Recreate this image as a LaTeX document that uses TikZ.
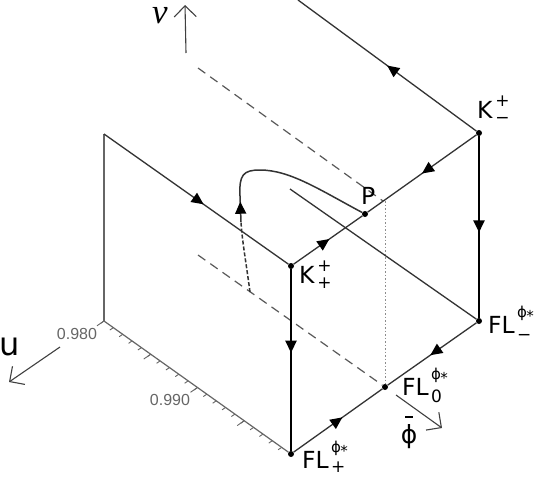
\documentclass[tikz,border=0pt]{standalone}
\usepackage{fontspec}
\setmainfont{DejaVu Sans}
\newfontfamily\libsans{Liberation Sans}
\newfontfamily\libserif{Liberation Serif}
\usetikzlibrary{arrows.meta,decorations.markings,calc}
\newcommand\scrsz{\fontsize{17}{17}\selectfont}
\newcommand\supsz{\fontsize{15}{15}\selectfont}
\newcommand\mylbl[3]{#1\kern0.12em\rlap{\raisebox{0.5em}{\scrsz #2}}\raisebox{-0.25em}{\scrsz #3}}
\newcommand\fllbl[2]{FL\kern0.1em\rlap{\raisebox{0.68em}{\supsz ϕ\kern-0.05em\raisebox{-0.3em}{*}}}\raisebox{-#2em}{\scrsz #1}}
\tikzset{
  mainline/.style={draw=black!80, line width=1.3pt},
  thickline/.style={draw=black, line width=2.3pt},
  wall/.style={draw=black!60, line width=1.2pt},
  tickline/.style={draw=black!60, line width=0.9pt},
  dashline/.style={draw=black!65, line width=1.2pt, dash pattern=on 9pt off 6pt},
  dotline/.style={draw=black!45, line width=1pt, dash pattern=on 1.5pt off 2pt},
  axisarrow/.style={draw=black!75, line width=1.1pt, -{Straight Barb[length=11pt,width=22pt]}},
  flowmark/.style={postaction={decorate}, decoration={markings, mark=at position #1 with {\arrow{Triangle[length=12pt,width=11pt,color=black]}}}},
  pt/.style={circle, fill=black, inner sep=0pt, minimum size=6pt},
  lab/.style={inner sep=0pt, font=\fontsize{23.5}{23.5}\selectfont},
  ticklab/.style={inner sep=0pt, text=black!60, font=\libsans\fontsize{16}{16}\selectfont},
}
\begin{document}
\begin{tikzpicture}[x=1pt,y=-1pt]
\useasboundingbox (0,0) rectangle (540,479);
\fill[white] (0,0) rectangle (540,479);
% points
\node[pt] (Km) at (479,133) {};
\node[pt] (FLm) at (479,321) {};
\node[pt] (Kp) at (291,266) {};
\node[pt] (FLp) at (291,454) {};
\node[pt] (FL0) at (385,387) {};
\node[pt] (P) at (365,214) {};
\coordinate (Ktop) at (298,0);
\coordinate (Wt) at (104,134);
\coordinate (Wb) at (104,321);
\coordinate (D1) at (385,201);
\coordinate (U1) at (198,68);
\coordinate (U2) at (383,201);
\coordinate (L1) at (198,255);
\coordinate (I1) at (290,189);
\coordinate (C0) at (250,292);
\coordinate (C1) at (241,222);
\coordinate (C2) at (240,196);
% back wall and axis
\draw[wall] (Wt) -- (Wb);
\draw[wall] (Wb) -- (FLp);
\foreach \i in {0,...,19} {
  \draw[tickline] ($(Wb)!\i/20!(FLp)$) -- ++(-3.5,2.4);
}
\foreach \i in {0,5,10,15} {
  \draw[tickline] ($(Wb)!\i/20!(FLp)$) -- ++(-7,4.8);
}
\node[ticklab] (t980) at (77,334) {0.980};
\node[ticklab] (t990) at (170,400) {0.990};
% dashed and dotted
\draw[dashline] (U1) -- (U2);
\draw[dashline] (L1) -- (FL0);
\draw[dotline] (D1) -- (FL0);
% solid lines
\draw[mainline, flowmark=0.5] (Km) -- (Ktop);
\draw[mainline, flowmark=0.54] (Wt) -- (Kp);
\draw[mainline] (I1) -- (FLm);
\draw[mainline, flowmark=0.52] (Kp) -- (P);
\draw[mainline, flowmark=0.5] (Km) -- (P);
\draw[mainline, flowmark=0.52] (FLm) -- (FL0);
\draw[mainline, flowmark=0.55] (FLp) -- (FL0);
\draw[thickline, flowmark=0.53] (Km) -- (FLm);
\draw[thickline, flowmark=0.46] (Kp) -- (FLp);
% trajectory curve
\draw[mainline, line width=1.5pt, dash pattern=on 4pt off 2pt] (C0) .. controls (246,262) and (242,240) .. (C1);
\draw[mainline, line width=1.5pt, flowmark=0.78] (C1) -- (C2);
\draw[mainline, line width=1.5pt] (C2) .. controls (239,175) and (243,170) .. (260,170) .. controls (290,170) and (320,190) .. (P);
% axis arrows
\coordinate (v0) at (186,53);
\coordinate (v1) at (185,5);
\draw[axisarrow] (v0) -- (v1);
\node[inner sep=0pt, anchor=base, text height=15pt, text depth=0pt, font=\libserif\itshape\fontsize{35}{35}\selectfont] (vl) at (160,23) {v};
\coordinate (u0) at (60,347);
\coordinate (u1) at (9,382);
\draw[axisarrow] (u0) -- (u1);
\node[inner sep=0pt, anchor=base west, text height=19pt, text depth=0pt, font=\fontsize{32}{32}\selectfont] (ul) at (-1,355) {u};
\coordinate (p0) at (396,395);
\coordinate (p1) at (442,428);
\draw[axisarrow] (p0) -- (p1);
\node[inner sep=0pt, anchor=base, font=\fontsize{25}{25}\selectfont] (pl) at (409,443) {\ooalign{ϕ\cr\hidewidth\raisebox{1.02em}{\rule{0.32em}{1.5pt}}\hidewidth\cr}};
% labels
\node[lab, anchor=base west] (lKm) at (477,118) {\mylbl{K}{+}{−}};
\node[lab, anchor=base west] (lKp) at (299,283) {\mylbl{K}{+}{+}};
\node[lab, anchor=base west] (lP) at (361,204) {P};
\node[lab, anchor=base west] (lFLm) at (488,333) {\fllbl{−}{0.3}};
\node[lab, anchor=base west] (lFL0) at (402,395) {\fllbl{0}{0.3}};
\node[lab, anchor=base west] (lFLp) at (302,468) {\fllbl{+}{0.18}};
\end{tikzpicture}
\end{document}
